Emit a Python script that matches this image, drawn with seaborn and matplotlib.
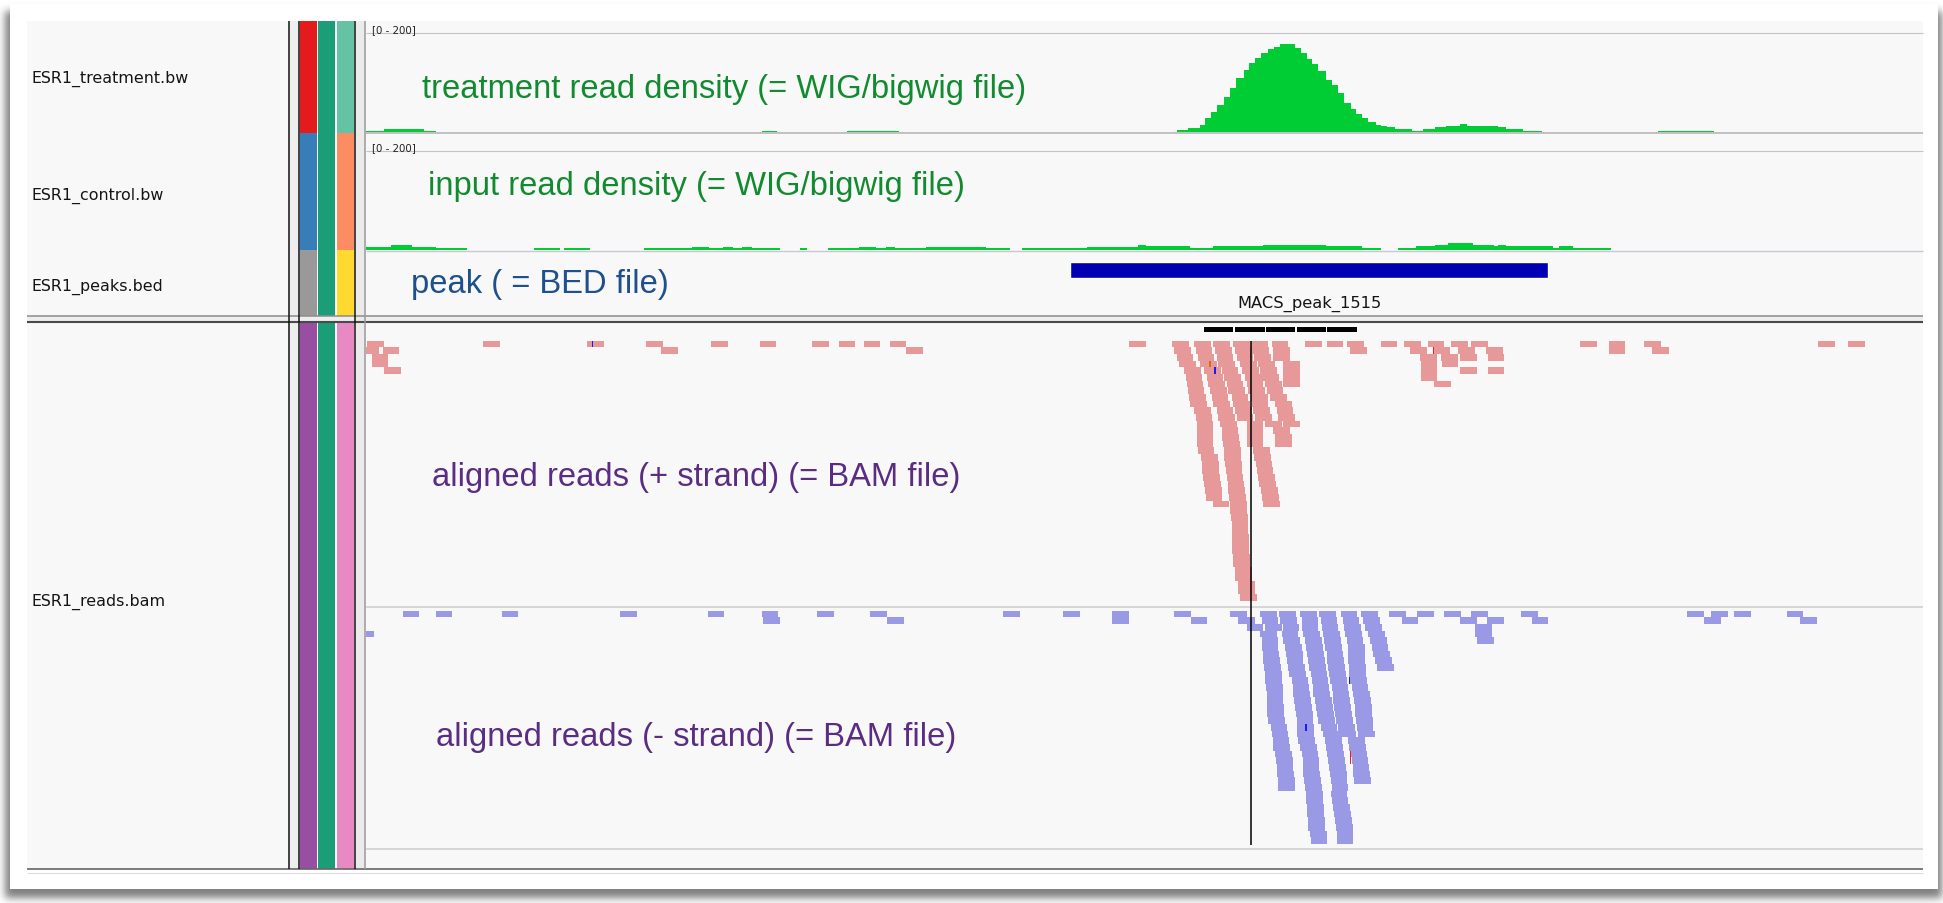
import numpy as np
import matplotlib
matplotlib.use("Agg")
import matplotlib.pyplot as plt
from matplotlib.patches import Rectangle
from matplotlib.collections import PatchCollection
import seaborn as sns

# ---------------------------------------------------------------
# Genome window (positions relative to the window start)
# ---------------------------------------------------------------
window_start, window_end = 0.0, 1556.7

track_names = ["ESR1_treatment.bw", "ESR1_control.bw", "ESR1_peaks.bed", "ESR1_reads.bam"]
data_range = (0, 200)

# bigwig signal: bin edges and values (0 = no data)
treat_edges = [0, 18.4, 58.1, 70.1, 396.2, 410.6, 481.4, 533, 810.5, 822, 833.5, 839.2,
               845, 850.7, 858.4, 864.1, 869.9, 877.5, 883.3, 889, 894.7, 902.4, 908.1,
               913.9, 929.2, 934.9, 940.7, 946.4, 952.1, 959.8, 965.5, 972, 977.8, 984.7,
               990.4, 996.2, 1001.9, 1009.5, 1015.3, 1021, 1028.7, 1045.9, 1057.4, 1068.9,
               1080.3, 1093.7, 1101.4, 1132, 1139.7, 1156.9, 1176, 1292, 1348]
treat_values = [3, 6, 3, 0, 3, 0, 3, 0, 4, 9, 15, 28, 40, 55, 72, 89, 109, 125, 140, 149,
                159, 167, 172, 177, 170, 159, 147, 137, 123, 105, 95, 79, 60, 47, 37, 28,
                20, 15, 13, 10, 7, 3, 7, 10, 13, 17, 13, 10, 7, 3, 0, 3]

ctrl_edges = [0, 24.6, 46.2, 70.1, 101.2, 168.1, 194.4, 197.8, 224.1, 278.1, 325.9, 342.7,
              357, 366.6, 376.2, 385.7, 414.4, 433.5, 440.7, 462.2, 493.3, 510.1, 519.6,
              529.2, 560.3, 620.1, 644, 655.9, 720.5, 772.3, 779.9, 823.9, 846.9, 896.6,
              959.8, 996.2, 1015.3, 1031.7, 1049.7, 1068.9, 1082.3, 1107.1, 1128.2, 1132,
              1139.7, 1187.5, 1193.2, 1206.6, 1244.9]
ctrl_values = [6, 10, 6, 3, 0, 3, 0, 3, 0, 3, 6, 3, 6, 3, 6, 3, 0, 3, 0, 3, 6, 3, 6, 3,
               6, 3, 0, 3, 6, 10, 7, 3, 7, 10, 7, 3, 0, 3, 7, 10, 14, 10, 7, 10, 7, 3, 7, 3]

# bed feature
peak_start = 703.7
peak_end = 1182.5
peak_name = "MACS_peak_1515"

# bam alignments: read start positions for each pileup row
read_length = 16.7
plus_rows = [
    [1.2, 116.8, 221.3, 279.8, 344.9, 393.5, 445.9, 472.7, 497.6, 523.6, 763, 806.3, 828.3,
     847.3, 867.3, 885, 905.7, 939, 960.7, 981.3, 1014.7, 1038.2, 1061.7, 1085.2, 1105,
     1214, 1242.8, 1278.1, 1452.3, 1482.4],
    [-4, 16.5, 295.1, 540.1, 808.3, 829.7, 849, 869, 886.3, 907.3, 984, 1044, 1067.3, 1092,
     1120, 1242.8, 1286.1],
    [5.5, 810.7, 831.7, 850.7, 870.7, 888.3, 907.3, 1054.5, 1075, 1094, 1121.7],
    [5.5, 813, 834, 852.3, 874, 892.3, 917.3, 1054.7, 1075.6],
    [18, 818.3, 838.3, 855.7, 876.3, 894, 917.3, 1054.7, 1094, 1121.7],
    [819.7, 840.7, 858.3, 879, 896.3, 917.3, 1054.7],
    [820.7, 842.3, 860.7, 880.7, 899, 917.3, 1068.4],
    [821.7, 844, 862.3, 882.3, 900.7],
    [823, 845.7, 865.7, 885, 904],
    [824, 847.3, 867.3, 885.7, 909],
    [828.3, 850.7, 869, 887.3, 910.7],
    [829.7, 852.3, 870.7, 889, 912.3],
    [830.7, 854, 880.7, 899, 917.3],
    [830.7, 855.7, 880.7, 907.3],
    [830.7, 856.3, 880.7, 909],
    [830.7, 857.3, 880.7, 909],
    [831.7, 858.3, 887.3],
    [835, 858.3, 888.3],
    [836.3, 859, 889.7],
    [836.3, 859.7, 890.7],
    [837.3, 860.7, 892.3],
    [838.3, 861.7, 893.3],
    [839, 862.3, 895],
    [839.7, 863, 896.3],
    [846.7, 864, 897.3],
    [864],
    [865],
    [865.7], [865.7],
    [866.3], [866.3], [866.3],
    [867.3], [867.3],
    [869], [869],
    [872.3], [872.3],
    [874],
]
minus_rows = [
    [36.6, 69.7, 135.5, 254.4, 341.7, 395.7, 450.8, 504.4, 637, 697.3, 746.3, 808, 864,
     894, 913, 934, 953, 974.7, 995, 1023.3, 1051.5, 1078.5, 1105.5, 1155.5, 1321.5,
     1345.5, 1368.2, 1420.8],
    [397.3, 521.2, 746.3, 824.7, 872.3, 895.7, 914, 935.7, 954.7, 976.7, 997.3, 1035.7,
     1094, 1121, 1165.7, 1338.5, 1434],
    [880.7, 899, 916.5, 935.7, 955.7, 978, 999, 1109.5],
    [-8.5, 894, 915.7, 937.3, 957.3, 979, 1002.3, 1109.5],
    [895.7, 917.3, 939, 958, 980.7, 1004, 1111],
    [895.7, 919, 940, 959, 982.3, 1005.7],
    [896.7, 920, 941.3, 960.7, 982.3, 1007.3],
    [897.3, 920.7, 942.3, 961.3, 982.3, 1009],
    [898, 922.3, 943.3, 962.3, 983.3, 1011.3],
    [899, 923.3, 944.7, 963.3, 983.3],
    [899, 925.7, 945.7, 964, 984],
    [900, 926.7, 946.7, 965.7, 985.7],
    [900.7, 927.3, 947.3, 966.7, 987.3],
    [900.7, 928, 949, 967.3, 988],
    [901.3, 929, 950, 968, 989],
    [901.3, 930, 951.3, 969, 989],
    [902.3, 930.7, 952.3, 970, 990],
    [904.7, 931.3, 954.7, 972, 990.7],
    [905.7, 931.3, 956.7, 973.3, 992.3],
    [906.7, 932.3, 959, 982.3],
    [907.3, 934, 960, 983.3],
    [909, 935.7, 961.3, 984.7],
    [910, 936.7, 962.3, 985.7],
    [910.7, 936.7, 963.3, 986.7],
    [911.3, 937.3, 964, 987.3],
    [912.3, 938, 964.7, 988],
    [912.3, 939, 965.7],
    [940, 964.7],
    [940, 965.7],
    [941.3, 967.3],
    [941.3, 968],
    [942.3, 969],
    [942.3, 970],
    [944, 970.7],
    [944.7, 970.7],
]

# mismatching bases inside reads
plus_mm_pos = [226.3, 844.0, 849.0, 1067.5]
plus_mm_row = [0, 3, 4, 1]
plus_mm_base = ["C", "G", "C", "T"]
minus_mm_pos = [940.0, 983.3, 984.7, 984.7]
minus_mm_row = [17, 10, 21, 22]
minus_mm_base = ["C", "C", "T", "T"]

# downsampled intervals and centre guide
downsample_start = [838.3, 868.7, 900.3, 930.7, 961.0]
downsample_end = [867.3, 899.0, 929.3, 959.7, 991.3]
center_line = 884.7

# ---------------------------------------------------------------
# Styling
# ---------------------------------------------------------------
sns.set_theme(style="white")
plt.rcParams["font.family"] = ["DejaVu Sans"]

W, H = 1943, 904
PLUS_COLOR = "#e79999"
MINUS_COLOR = "#9999e6"
COV_COLOR = "#00cc33"
BED_COLOR = "#0000b2"
BASE_COLORS = {"A": "#00a000", "C": "#1a1aff", "G": "#d17105", "T": "#ff1a1a"}
ROW_PX = 6.667

fig = plt.figure(figsize=(W / 100, H / 100), dpi=100)
fig.patch.set_facecolor("white")


def box(x0, y0, x1, y1):
    return [x0 / W, 1 - y1 / H, (x1 - x0) / W, (y1 - y0) / H]


def soften(a, sigma):
    r = int(3 * sigma)
    k = np.exp(-0.5 * (np.arange(-r, r + 1) / sigma) ** 2)
    k /= k.sum()
    a = np.apply_along_axis(np.convolve, 0, a, k, mode="same")
    a = np.apply_along_axis(np.convolve, 1, a, k, mode="same")
    return a


# ---- frame: drop shadow, card, panels ----
bg = fig.add_axes([0, 0, 1, 1])
bg.set_xlim(0, W)
bg.set_ylim(H, 0)
bg.axis("off")

yy, xx = np.mgrid[0:H, 0:W]
mask = ((xx >= 5) & (xx < 1942) & (yy >= 12) & (yy < 899)).astype(float)
mask = soften(mask, 4.0)
shadow = np.zeros((H, W, 4))
shadow[..., :3] = 0.33
shadow[..., 3] = mask * 0.75
bg.imshow(shadow, extent=(0, W, H, 0), zorder=0, interpolation="bilinear")

bg.add_patch(Rectangle((10, 5), 1928, 885, fc="white", ec="none", zorder=1))
bg.add_patch(Rectangle((27, 22), 1896, 848, fc="#f8f8f8", ec="none", zorder=2))
bg.add_patch(Rectangle((27, 316.5), 1896, 7, fc="#eeeeee", ec="none", zorder=2))

# vertical dividers between name panel, attribute stripes and data panel
bg.add_patch(Rectangle((290, 22), 8.5, 848, fc="#eeeeee", ec="none", zorder=2))
bg.add_patch(Rectangle((355.5, 22), 9, 848, fc="#ebebeb", ec="none", zorder=2))
for xv, col, lw in [(289.3, "#111111", 1.1), (298.8, "#111111", 1.1),
                    (354.9, "#111111", 1.1), (365.0, "#9a9a9a", 1.1)]:
    bg.plot([xv, xv], [22, 870], color=col, lw=lw, zorder=6, solid_capstyle="butt")

set1 = sns.color_palette("Set1", 9)
dark2 = sns.color_palette("Dark2", 8)
set2 = sns.color_palette("Set2", 8)
stripe_x = [(299.5, 317.0), (318.3, 335.3), (336.8, 354.2)]
upper_spans = [(22, 134), (134, 251), (251, 316.5)]
upper_colors = [
    [set1[0], dark2[0], set2[0]],
    [set1[1], dark2[0], set2[1]],
    [set1[8], dark2[0], set2[5]],
]
for (y0, y1), cols in zip(upper_spans, upper_colors):
    for (x0, x1), c in zip(stripe_x, cols):
        bg.add_patch(Rectangle((x0, y0), x1 - x0, y1 - y0, fc=c, ec="none", zorder=3))
for (x0, x1), c in zip(stripe_x, [set1[3], dark2[0], set2[3]]):
    bg.add_patch(Rectangle((x0, 323.8), x1 - x0, 870 - 323.8, fc=c, ec="none", zorder=3))

# horizontal rules
for yv, x0, col, lw in [(316.7, 27, "#8c8c8c", 1.1), (323.3, 27, "#4a4a4a", 1.5),
                        (870.0, 27, "#666666", 1.2), (874.0, 27, "#dddddd", 0.8),
                        (34.0, 366, "#c4c4c4", 0.8), (134.0, 366, "#b2b2b2", 1.1),
                        (151.5, 366, "#c4c4c4", 0.8), (251.5, 366, "#c9c9d2", 1.0),
                        (607.5, 366, "#cccccc", 1.1), (850.0, 366, "#cccccc", 1.1)]:
    bg.plot([x0, 1922.7], [yv, yv], color=col, lw=lw, zorder=5, solid_capstyle="butt")

# track names
for name, yb in zip(track_names, [83, 200, 290.5, 606]):
    bg.text(31, yb, name, fontsize=11.4, color="#141414", va="baseline", ha="left",
            zorder=7)

range_label = f"[{data_range[0]} - {data_range[1]}]"
for yb in [33.5, 151.0]:
    bg.text(372, yb, range_label, fontsize=7.4, color="#222222", va="baseline",
            ha="left", zorder=7)

# explanatory captions
caption_font = dict(family="Liberation Sans", fontsize=23.6, va="baseline", ha="left",
                    zorder=7)
bg.text(422, 98.3, "treatment read density (= WIG/bigwig file)", color="#128a30",
        **caption_font)
bg.text(427.5, 195.0, "input read density (= WIG/bigwig file)", color="#128a30",
        **caption_font)
bg.text(410.7, 292.7, "peak ( = BED file)", color="#1e508c", **caption_font)
bg.text(432, 486.0, "aligned reads (+ strand) (= BAM file)", color="#5a2d82",
        **caption_font)
bg.text(436, 746.0, "aligned reads (- strand) (= BAM file)", color="#5a2d82",
        **caption_font)


# ---- coverage tracks ----
def coverage(ax, edges, values):
    edges = [float(e) for e in edges]
    mids = [(a + b) / 2 for a, b in zip(edges[:-1], edges[1:])]
    sns.histplot(x=mids, weights=list(values), bins=edges, element="step", fill=True,
                 color=COV_COLOR, alpha=1.0, linewidth=0, ax=ax)
    ax.set_xlim(window_start, window_end)
    ax.set_ylim(*data_range)
    ax.axis("off")
    ax.patch.set_alpha(0)


ax_treat = fig.add_axes(box(366, 34, 1922.7, 133.3))
coverage(ax_treat, treat_edges, treat_values)
ax_ctrl = fig.add_axes(box(366, 151.5, 1922.7, 250.8))
coverage(ax_ctrl, ctrl_edges, ctrl_values)

# ---- bed track ----
ax_bed = fig.add_axes(box(366, 251.5, 1922.7, 316.5))
ax_bed.set_xlim(window_start, window_end)
ax_bed.set_ylim(1, 0)
ax_bed.axis("off")
ax_bed.patch.set_alpha(0)
ax_bed.broken_barh([(peak_start, peak_end - peak_start)], (0.172, 0.258),
                   facecolors=BED_COLOR)
ax_bed.text((peak_start + peak_end) / 2, 0.873, peak_name, ha="center", va="baseline",
            fontsize=11.7, color="#141414")


# ---- alignments ----
def pileup(ax, rows, color, mm_pos, mm_row, mm_base):
    rects = []
    for r, starts in enumerate(rows):
        for s in starts:
            rects.append(Rectangle((s, r), read_length, 1.0))
    ax.add_collection(PatchCollection(rects, facecolor=color, edgecolor="none",
                                      linewidth=0))
    for p, r, b in zip(mm_pos, mm_row, mm_base):
        ax.add_patch(Rectangle((p - 0.6, r), 1.3, 1.0, fc=BASE_COLORS[b], ec="none"))


ax_plus = fig.add_axes(box(366, 323.5, 1922.7, 607.5))
ax_plus.set_xlim(window_start, window_end)
plus_top = (323.5 - 341.7) / ROW_PX
plus_bottom = (607.5 - 341.7) / ROW_PX
ax_plus.set_ylim(plus_bottom, plus_top)
ax_plus.axis("off")
ax_plus.patch.set_alpha(0)
pileup(ax_plus, plus_rows, PLUS_COLOR, plus_mm_pos, plus_mm_row, plus_mm_base)
for s, e in zip(downsample_start, downsample_end):
    ax_plus.add_patch(Rectangle((s, -2.0), e - s, 0.75, fc="black", ec="none"))
ax_plus.plot([center_line, center_line], [0, plus_bottom], color="black", lw=1.1,
             solid_capstyle="butt")

ax_minus = fig.add_axes(box(366, 607.5, 1922.7, 850))
ax_minus.set_xlim(window_start, window_end)
minus_top = (607.5 - 611.7) / ROW_PX
minus_bottom = (850 - 611.7) / ROW_PX
ax_minus.set_ylim(minus_bottom, minus_top)
ax_minus.axis("off")
ax_minus.patch.set_alpha(0)
pileup(ax_minus, minus_rows, MINUS_COLOR, minus_mm_pos, minus_mm_row, minus_mm_base)
ax_minus.plot([center_line, center_line], [minus_top, len(minus_rows) + 0.2],
              color="black", lw=1.1, solid_capstyle="butt")

fig.savefig("out.png", dpi=100, facecolor="white")
